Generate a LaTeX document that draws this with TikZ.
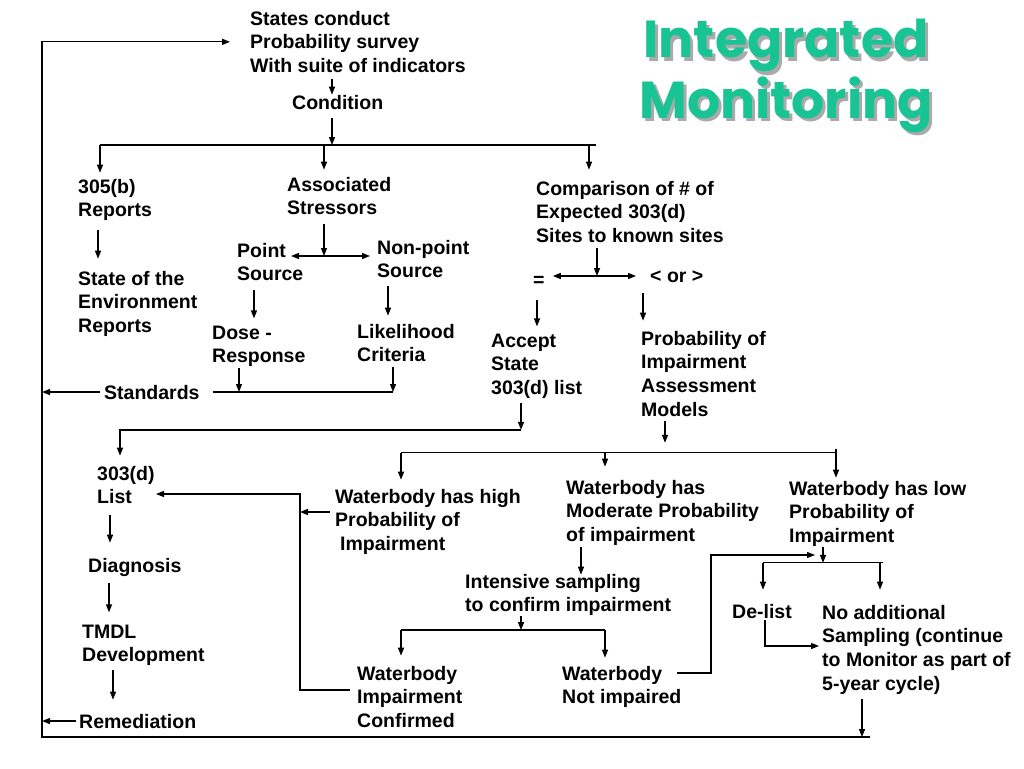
\documentclass[tikz,border=0pt]{standalone}
\usepackage{fontspec}
\setmainfont{Liberation Sans}
\newfontfamily\titlefont{Poppins}
\usepackage{tikz}
\usepackage{xcolor}
\usetikzlibrary{arrows.meta, positioning, calc}
\definecolor{titlegreen}{RGB}{24,196,148}
\definecolor{titleshade}{RGB}{170,170,170}

\begin{document}
\begin{tikzpicture}[x=1pt, y=-1pt,
    lbl/.style={anchor=base west, align=left, inner sep=0pt, font=\bfseries\fontsize{19.5}{23.8}\selectfont},
    ttl/.style={anchor=base, inner sep=0pt, font=\titlefont\bfseries\fontsize{52}{56}\selectfont},
    arr/.style={-{Triangle[length=8pt,width=6pt]}, line width=1.3pt},
    dbl/.style={{Triangle[length=8pt,width=6pt]}-{Triangle[length=8pt,width=6pt]}, line width=1.3pt},
    ln/.style={line width=1.2pt}]
\fill[white] (0,0) rectangle (1024,768);
\useasboundingbox (0,0) rectangle (1024,768);

% Title
\node[ttl, text=titleshade] (titleAs) at (789,61) {Integrated};
\node[ttl, text=titleshade] (titleBs) at (789,121) {Monitoring};
\node[ttl, text=titlegreen] (titleA) at (786,58) {Integrated};
\node[ttl, text=titlegreen] (titleB) at (786,118) {Monitoring};

% Survey and condition
\node[lbl] (survey) at (250,72.6) {States conduct\\Probability survey\\With suite of indicators};
\node[lbl] (cond) at (292,109) {Condition};

% First branch
\node[lbl] (rep305) at (78,216.8) {305(b)\\Reports};
\node[lbl] (soe) at (78,332.6) {State of the\\Environment\\Reports};
\node[lbl] (assoc) at (287,214.8) {Associated\\Stressors};
\node[lbl] (point) at (237,280.8) {Point\\Source};
\node[lbl] (nonpt) at (377,277.8) {Non-point\\Source};
\node[lbl] (dose) at (212,362.8) {Dose -\\Response};
\node[lbl] (likeli) at (357,361.8) {Likelihood\\Criteria};
\node[lbl] (stand) at (104,399) {Standards};
\node[lbl] (comp) at (536,242.6) {Comparison of \# of\\Expected 303(d)\\Sites to known sites};
\node[lbl] (eq) at (533,286) {=};
\node[lbl] (ltgt) at (650,282) {< or >};
\node[lbl] (accept) at (491,394.6) {Accept\\State\\303(d) list};
\node[lbl] (poia) at (641,416.4) {Probability of\\Impairment\\Assessment\\Models};

% Listing and impairment
\node[lbl] (list) at (97,503.8) {303(d)\\List};
\node[lbl] (diag) at (88,572) {Diagnosis};
\node[lbl] (tmdl) at (82,661.8) {TMDL\\Development};
\node[lbl] (remed) at (79,728) {Remediation};
\node[lbl] (high) at (335,550.6) {Waterbody has high\\Probability of\\\hspace{5pt}Impairment};
\node[lbl] (moder) at (566,541.6) {Waterbody has\\Moderate Probability\\of impairment};
\node[lbl] (low) at (789,542.6) {Waterbody has low\\Probability of\\Impairment};
\node[lbl] (intens) at (465,611.8) {Intensive sampling\\to confirm impairment};
\node[lbl] (confirm) at (357,727.6) {Waterbody\\Impairment\\Confirmed};
\node[lbl] (notimp) at (562,703.8) {Waterbody\\Not impaired};
\node[lbl] (delist) at (732,618) {De-list};
\node[lbl] (noadd) at (822,690.4) {No additional\\Sampling (continue\\to Monitor as part of\\5-year cycle)};

% Outer loop
\coordinate (loopBL) at (42,737);
\coordinate (loopBR) at (870,737);
\coordinate (cyc) at ($(noadd.south west)+(40,4)$);
\draw[arr] (loopBR) -- (loopBL) |- ([xshift=-20pt]survey.west);
\draw[arr] (cyc) -- (cyc |- loopBR);
\draw[arr] ([xshift=-4pt]stand.west) -- (stand.west -| loopBL);
\draw[arr] ([xshift=-3pt]remed.west) -- (remed.west -| loopBL);

% Survey to condition to first bus
\draw[arr] ($(survey.south west)+(82,6)$) -- ($(cond.north west)+(40,0)$);
\coordinate (busA) at (100,145);
\coordinate (condOut) at ($(cond.south west)+(40,9)$);
\coordinate (repIn) at ($(rep305.north west)+(22,-6)$);
\coordinate (assocIn) at ($(assoc.north west)+(37,-7)$);
\coordinate (compIn) at ($(comp.north west)+(53,-11)$);
\draw[ln] (busA) -- ($(compIn |- busA)+(7,0)$);
\draw[arr] (condOut) -- (condOut |- busA);
\draw[arr] (busA) -- (repIn);
\draw[arr] (assocIn |- busA) -- (assocIn);
\draw[arr] (compIn |- busA) -- (compIn);

% Reports and stressors
\draw[arr] ($(rep305.south west)+(20,9)$) -- ($(soe.north west)+(20,-12)$);
\coordinate (srcL) at ($(point.base west)+(54,-24.8)$);
\coordinate (srcR) at ($(nonpt.base west)+(-7,-21.8)$);
\coordinate (assocOut) at ($(assoc.south west)+(37,9)$);
\draw[dbl] (srcL) -- (srcR);
\draw[arr] (assocOut) -- (assocOut |- srcL);
\draw[arr] ($(point.south west)+(17,9)$) -- ($(dose.north west)+(42,-7)$);
\draw[arr] ($(nonpt.south west)+(11,8)$) -- ($(likeli.north west)+(31,-8)$);
\coordinate (stdL) at ($(stand.base east)+(13,-7)$);
\coordinate (doseOut) at ($(dose.south west)+(27,1)$);
\coordinate (likeliOut) at ($(likeli.south west)+(36,5)$);
\draw[ln] (stdL) -- (stdL -| likeliOut);
\draw[arr] (doseOut) -- (doseOut |- stdL);
\draw[arr] (likeliOut) -- (likeliOut |- stdL);

% Comparison
\coordinate (cmpL) at ($(eq.base east)+(8,-10)$);
\coordinate (cmpR) at ($(ltgt.base west)+(-14,-6)$);
\coordinate (compOut) at ($(comp.south west)+(61,5)$);
\draw[dbl] (cmpL) -- (cmpR);
\draw[arr] (compOut) -- (compOut |- cmpL);
\draw[arr] ($(eq.south west)+(4,14)$) -- ($(accept.north west)+(46,-7)$);
\draw[arr] ($(ltgt.south west)+(-7,11)$) -- ($(poia.north west)+(2,-10)$);

% Accept to 303(d) list
\coordinate (acceptOut) at ($(accept.south west)+(30,4)$);
\coordinate (listIn) at ($(list.north west)+(23,-10)$);
\draw[arr] (acceptOut) -- ++(0,27) coordinate (busB);
\draw[arr] (busB) -| (listIn);

% Models to three outcomes
\draw[arr] ($(poia.south west)+(24,4)$) -- ++(0,22);
\coordinate (highIn) at ($(high.north west)+(66,-9)$);
\coordinate (moderIn) at ($(moder.north west)+(39,-13)$);
\coordinate (lowIn) at ($(low.north west)+(47,-3)$);
\coordinate (busC) at ($(highIn)+(0,-27)$);
\draw[ln] (busC) -- (busC -| lowIn);
\draw[arr] (busC) -- (highIn);
\draw[arr] (moderIn |- busC) -- (moderIn);
\draw[arr] (lowIn |- busC) ++(0,-4) -- (lowIn);

% High probability back to list
\coordinate (cfOut) at ($(confirm.base west)+(-7,-37.6)$);
\coordinate (listSide) at ($(list.base west)+(59,-9.8)$);
\draw[arr] ($(high.base west)+(-5,-38.6)$) -- ++(-30,0) coordinate (sideX);
\draw[arr] (cfOut) -- (cfOut -| sideX) |- (listSide);

% List to remediation
\draw[arr] ($(list.south west)+(13,11)$) -- ($(diag.north west)+(22,-15)$);
\draw[arr] ($(diag.south west)+(21,7)$) -- ($(tmdl.north west)+(27,-12)$);
\draw[arr] ($(tmdl.south west)+(31,4)$) -- ($(remed.north west)+(34,-14)$);

% Moderate probability
\draw[arr] ($(moder.south west)+(15,1)$) -- ($(intens.north west)+(116,1)$);
\coordinate (intensOut) at ($(intens.south west)+(56,0)$);
\coordinate (cfIn) at ($(confirm.north west)+(44,-10)$);
\coordinate (niIn) at ($(notimp.north west)+(43,-8)$);
\draw[arr] (intensOut) -- ++(0,14) coordinate (busD);
\draw[ln] (cfIn |- busD) -- (niIn |- busD);
\draw[arr] (cfIn |- busD) -- (cfIn);
\draw[arr] (niIn |- busD) -- (niIn);
\draw[arr] ($(notimp.base west)+(115,-30.8)$) -- ++(34,0) |- ($(low.base west)+(26,12.4)$);

% Low probability
\coordinate (lowOut) at ($(low.south west)+(34,0)$);
\coordinate (dlIn) at ($(delist.north west)+(31,-14)$);
\coordinate (naIn) at ($(noadd.north west)+(58,-15)$);
\draw[arr] (lowOut) -- ++(0,16) coordinate (busE);
\draw[ln] (dlIn |- busE) -- ($(naIn |- busE)+(3,0)$);
\draw[arr] (dlIn |- busE) -- (dlIn);
\draw[arr] (naIn |- busE) -- (naIn);
\draw[arr] ($(delist.base west)+(33,2)$) |- ($(noadd.base west)+(-3,-44.4)$);
\end{tikzpicture}
\end{document}
